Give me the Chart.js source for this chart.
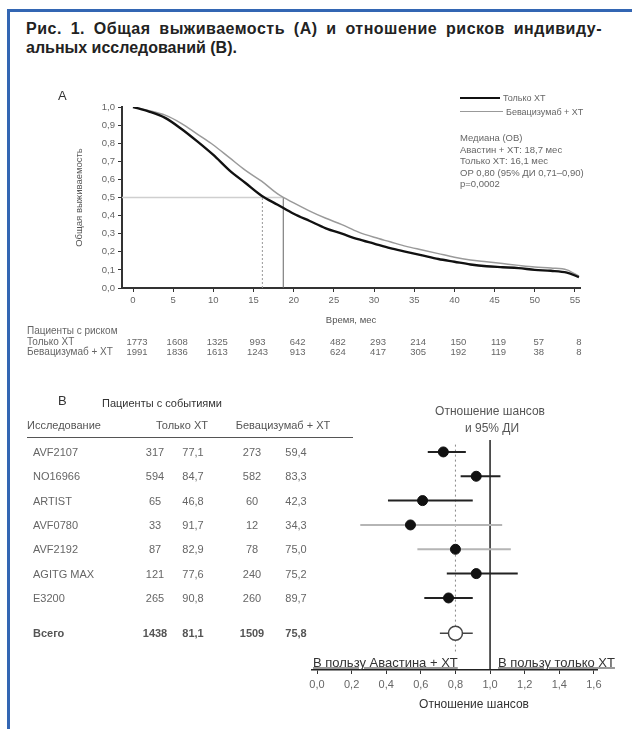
<!DOCTYPE html>
<html><head><meta charset="utf-8">
<script src="https://cdn.jsdelivr.net/npm/chart.js@4.4.0/dist/chart.umd.min.js"></script>
<style>
body{margin:0;width:632px;height:729px;overflow:hidden;background:#fff;position:relative;font-family:"Liberation Sans",Arial,sans-serif}
.t{position:absolute;white-space:nowrap;color:#555;font-size:9px;line-height:1}
canvas{position:absolute;left:0}
#bt{position:absolute;left:7px;top:9px;width:625px;height:3px;background:#3366b3}
#bl{position:absolute;left:7px;top:9px;width:3px;height:720px;background:#3366b3}
.ti{position:absolute;left:26px;font-weight:bold;font-size:16px;line-height:19px;color:#222;white-space:nowrap}
#ti1{top:19px;width:576px;letter-spacing:0.5px;text-align:justify;text-align-last:justify}
#ti2{top:38px}
.lg{position:absolute;height:0}
</style></head>
<body>
<div id="bt"></div><div id="bl"></div>
<div class="ti" id="ti1">Рис. 1. Общая выживаемость (А) и отношение рисков индивиду-</div>
<div class="ti" id="ti2">альных исследований (В).</div>
<canvas id="ca" width="632" height="250" style="top:80px"></canvas>
<canvas id="cb" width="632" height="350" style="top:380px"></canvas>
<script>
// ---- Panel A data ----
const months    = [0,2,4,6,8,10,12,14,16,18,20,22,24,26,28,30,32,34,36,38,40,42,44,46,48,50,52,54,55.5];
const survChemo = [1.0,0.975,0.94,0.88,0.81,0.735,0.65,0.58,0.51,0.46,0.41,0.37,0.33,0.30,0.27,0.245,0.22,0.20,0.18,0.16,0.145,0.13,0.12,0.115,0.11,0.10,0.095,0.085,0.06];
const survBev   = [1.0,0.98,0.955,0.91,0.85,0.79,0.72,0.65,0.59,0.52,0.47,0.425,0.385,0.35,0.31,0.28,0.255,0.23,0.21,0.19,0.17,0.155,0.145,0.135,0.125,0.116,0.11,0.10,0.065];
const medianChemo = 16.1, medianBev = 18.7;
const xTicksA = [0,5,10,15,20,25,30,35,40,45,50,55];
const yTicksA = [0,0.1,0.2,0.3,0.4,0.5,0.6,0.7,0.8,0.9,1.0];
const riskChemo = [1773,1608,1325,993,642,482,293,214,150,119,57,8];
const riskBev   = [1991,1836,1613,1243,913,624,417,305,192,119,38,8];
const seriesNames = ['Только ХТ','Бевацизумаб + ХТ'];
const legendLines = ['Медиана (ОВ)','Авастин + ХТ: 18,7 мес','Только ХТ: 16,1 мес','ОР 0,80 (95% ДИ 0,71–0,90)','р=0,0002'];

// ---- Panel B data ----
const studies   = ['AVF2107','NO16966','ARTIST','AVF0780','AVF2192','AGITG MAX','E3200'];
const eventsChemo = [317,594,65,33,87,121,265];
const pctChemo    = [77.1,84.7,46.8,91.7,82.9,77.6,90.8];
const eventsBev   = [273,582,60,12,78,240,260];
const pctBev      = [59.4,83.3,42.3,34.3,75.0,75.2,89.7];
const totalLabel = 'Всего';
const totalEvents = [1438,81.1,1509,75.8];
const hr     = [0.73,0.92,0.61,0.54,0.80,0.92,0.76];
const hrLow  = [0.64,0.83,0.41,0.25,0.58,0.75,0.62];
const hrHigh = [0.86,1.06,0.90,1.07,1.12,1.16,0.90];
const totalHR = 0.80, totalLow = 0.71, totalHigh = 0.90;
const xTicksB = [0,0.2,0.4,0.6,0.8,1.0,1.2,1.4,1.6];

const fmt = v => v.toFixed(1).replace('.', ',');
const FONT = "'Liberation Sans', Arial, sans-serif";
function txt(s, x, y, opt){
  opt = opt || {};
  const d = document.createElement('div');
  d.className = 't';
  d.textContent = s;
  d.style.left = x + 'px'; d.style.top = y + 'px';
  const ax = opt.align === 'center' ? '-50%' : (opt.align === 'right' ? '-100%' : '0');
  d.style.transform = 'translate(' + ax + ',-50%)';
  if (opt.size) d.style.fontSize = opt.size + 'px';
  if (opt.color) d.style.color = opt.color;
  if (opt.bold) d.style.fontWeight = 'bold';
  if (opt.ul) d.style.textDecoration = 'underline';
  document.body.appendChild(d);
  return d;
}
function hline(x1, x2, y, w, color){
  const d = document.createElement('div');
  d.className = 'lg';
  d.style.left = x1 + 'px'; d.style.top = (y - w/2) + 'px';
  d.style.width = (x2 - x1) + 'px'; d.style.borderTop = w + 'px solid ' + color;
  document.body.appendChild(d);
}

// ---- Chart A ----
const pts = arr => months.map((m,i)=>({x:m,y:arr[i]}));
const chartA = new Chart(document.getElementById('ca'), {
  type:'scatter',
  data:{datasets:[
    {data:pts(survChemo), showLine:true, borderColor:'#111', borderWidth:2.4, pointRadius:0, cubicInterpolationMode:'monotone', order:0},
    {data:pts(survBev), showLine:true, borderColor:'#9a9a9a', borderWidth:1.5, pointRadius:0, cubicInterpolationMode:'monotone', order:1},
    {data:[{x:-1.37,y:0.5},{x:medianBev,y:0.5}], showLine:true, borderColor:'#cfcfcf', borderWidth:1.5, pointRadius:0, order:2},
    {data:[{x:medianChemo,y:0},{x:medianChemo,y:0.5}], showLine:true, borderColor:'#999', borderWidth:1, borderDash:[2,2], pointRadius:0, order:2},
    {data:[{x:medianBev,y:0},{x:medianBev,y:0.5}], showLine:true, borderColor:'#666', borderWidth:1, pointRadius:0, order:2}
  ]},
  options:{
    responsive:false, animation:false, devicePixelRatio:1,
    layout:{padding:{left:70,right:52,top:27,bottom:0}},
    plugins:{legend:{display:false},tooltip:{enabled:false}},
    scales:{
      x:{type:'linear', min:-1.37, max:55.63,
         afterBuildTicks:a=>{a.ticks = xTicksA.map(v=>({value:v}));},
         afterFit:a=>{a.height = 42;},
         grid:{drawOnChartArea:false, drawTicks:true, tickLength:4, color:'#333'},
         border:{display:true, color:'#333', width:2},
         ticks:{font:{family:FONT,size:9.5}, color:'#666', padding:3, maxRotation:0, autoSkip:false},
         title:{display:true, text:'Время, мес', font:{family:FONT,size:9.5}, color:'#555', padding:{top:2,bottom:4}}},
      y:{type:'linear', min:0, max:1,
         afterBuildTicks:a=>{a.ticks = yTicksA.map(v=>({value:v}));},
         afterFit:a=>{a.width = 52;},
         grid:{drawOnChartArea:false, drawTicks:true, tickLength:4, color:'#333'},
         border:{display:true, color:'#333', width:2},
         ticks:{font:{family:FONT,size:9.5}, color:'#666', padding:3, callback:v=>fmt(v)},
         title:{display:true, text:'Общая выживаемость', font:{family:FONT,size:9.5}, color:'#555', padding:{top:4,bottom:4}}}
    }
  }
});

// Panel A texts
txt('A', 58, 95, {size:13, color:'#333'});
hline(460, 500, 98, 2.2, '#111');
txt(seriesNames[0], 503, 98, {color:'#666'});
hline(460, 503, 112, 1.2, '#999');
txt(seriesNames[1], 506, 112, {color:'#666'});
legendLines.forEach((s,i)=>txt(s, 460, 138 + i*11.5, {color:'#666', size:9.5}));
txt('Пациенты с риском', 27, 331, {color:'#666', size:10});
txt(seriesNames[0], 27, 342, {color:'#666', size:10});
txt(seriesNames[1], 27, 352, {color:'#666', size:10});
const sx = chartA.scales.x;
xTicksA.forEach((m,i)=>{
  const px = sx.getPixelForValue(m);
  txt(String(riskChemo[i]), px + 4, 342, {align:'center', color:'#666', size:9.5});
  txt(String(riskBev[i]), px + 4, 352, {align:'center', color:'#666', size:9.5});
});

// ---- Chart B (forest) ----
const yMinB = -0.49, yMaxB = 8.96, totalPos = 7.45;
const dsB = [];
dsB.push({data:hr.map((v,i)=>({x:v,y:i})), pointRadius:5, pointBackgroundColor:'#111', pointBorderColor:'#111', order:0});
dsB.push({data:[{x:totalHR,y:totalPos}], pointRadius:7, pointBackgroundColor:'#fff', pointBorderColor:'#444', pointBorderWidth:1.5, order:0});
studies.forEach((s,i)=>{
  dsB.push({data:[{x:hrLow[i],y:i},{x:hrHigh[i],y:i}], showLine:true, pointRadius:0,
    borderColor:(i===3||i===4)?'#b5b5b5':'#222', borderWidth:2, order:2});
});
dsB.push({data:[{x:totalLow,y:totalPos},{x:totalHigh,y:totalPos}], showLine:true, pointRadius:0, borderColor:'#444', borderWidth:1.5, order:2});
dsB.push({data:[{x:1,y:yMinB},{x:1,y:yMaxB}], showLine:true, pointRadius:0, borderColor:'#222', borderWidth:1.5, order:3});
dsB.push({data:[{x:totalHR,y:-0.3},{x:totalHR,y:8.2}], showLine:true, pointRadius:0, borderColor:'#888', borderWidth:1, borderDash:[2,3], order:3});

const chartB = new Chart(document.getElementById('cb'), {
  type:'scatter',
  data:{datasets:dsB},
  options:{
    responsive:false, animation:false, devicePixelRatio:1,
    layout:{padding:{left:312,right:35,top:60,bottom:15}},
    plugins:{legend:{display:false},tooltip:{enabled:false}},
    scales:{
      x:{type:'linear', min:-0.029, max:1.618,
         afterBuildTicks:a=>{a.ticks = xTicksB.map(v=>({value:v}));},
         afterFit:a=>{a.height = 45;},
         grid:{drawOnChartArea:false, drawTicks:true, tickLength:4, color:'#333'},
         border:{display:true, color:'#222', width:1.5},
         ticks:{font:{family:FONT,size:11}, color:'#666', padding:4, maxRotation:0, autoSkip:false, callback:v=>fmt(v)},
         title:{display:false, text:'Отношение шансов'}},
      y:{type:'linear', display:false, reverse:true, min:yMinB, max:yMaxB}
    }
  }
});

// Panel B texts
const syB = chartB.scales.y, bTop = 380;
const rowY = i => bTop + syB.getPixelForValue(i);
txt('B', 58, 400, {size:13, color:'#333'});
txt('Пациенты с событиями', 102, 403, {size:11, color:'#333'});
txt('Исследование', 27, 425, {color:'#555', size:11});
txt('Только ХТ', 182, 425, {align:'center', color:'#555', size:11});
txt('Бевацизумаб + ХТ', 283, 425, {align:'center', color:'#555', size:11});
hline(27, 353, 438, 1.5, '#555');
const colX = [155, 193, 252, 296];
studies.forEach((s,i)=>{
  const y = rowY(i);
  txt(s, 33, y, {color:'#666', size:11});
  txt(String(eventsChemo[i]), colX[0], y, {align:'center', color:'#666', size:11});
  txt(fmt(pctChemo[i]), colX[1], y, {align:'center', color:'#666', size:11});
  txt(String(eventsBev[i]), colX[2], y, {align:'center', color:'#666', size:11});
  txt(fmt(pctBev[i]), colX[3], y, {align:'center', color:'#666', size:11});
});
const ty = rowY(totalPos);
txt(totalLabel, 33, ty, {color:'#555', bold:true, size:11});
txt(String(totalEvents[0]), colX[0], ty, {align:'center', color:'#555', bold:true, size:11});
txt(fmt(totalEvents[1]), colX[1], ty, {align:'center', color:'#555', bold:true, size:11});
txt(String(totalEvents[2]), colX[2], ty, {align:'center', color:'#555', bold:true, size:11});
txt(fmt(totalEvents[3]), colX[3], ty, {align:'center', color:'#555', bold:true, size:11});
txt('Отношение шансов', 490, 411, {align:'center', color:'#555', size:12});
txt('и 95% ДИ', 492, 428, {align:'center', color:'#555', size:12});
txt('В пользу Авастина + ХТ', 313, 662, {color:'#333', size:13, ul:true});
txt('В пользу только ХТ', 498, 662, {color:'#333', size:13, ul:true});
txt('Отношение шансов', 474, 704, {align:'center', color:'#333', size:12});
</script>
</body></html>
